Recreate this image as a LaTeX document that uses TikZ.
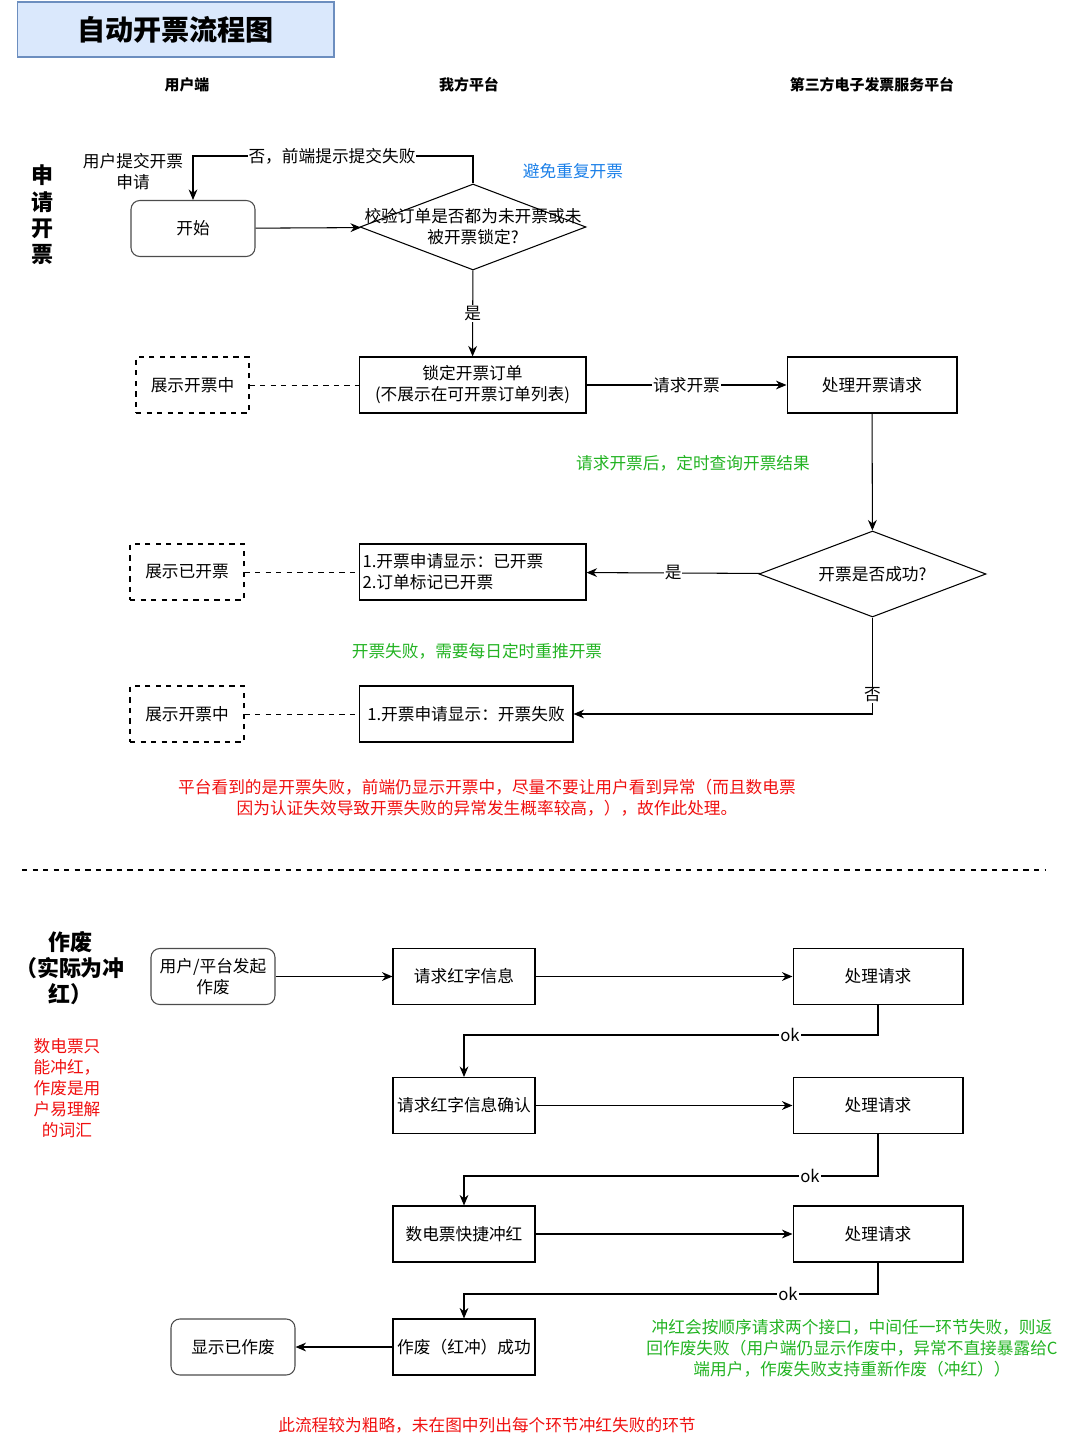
\documentclass[tikz,border=0pt]{standalone}
\usepackage{fontspec}
\setmainfont{Noto Sans CJK SC}
\usetikzlibrary{arrows.meta,shapes.geometric}
\definecolor{titleblue}{HTML}{DAE8FC}
\definecolor{titleline}{HTML}{6C8EBF}
\definecolor{notegreen}{HTML}{22B322}
\definecolor{notered}{HTML}{F01010}
\definecolor{noteblue}{HTML}{1A7FE8}
\tikzset{
  txt/.style={font=\fontsize{9.5}{12}\selectfont, inner sep=1pt, align=center},
  box/.style={txt, draw, semithick, minimum height=1.12cm},
  rbox/.style={box, rounded corners=5pt, draw=black!70},
  dbox/.style={box, dashed},
  dia/.style={draw, semithick, diamond, inner sep=0pt, minimum size=0pt,
    shape aspect=2.6},
  arr/.style={-{Stealth[length=6pt,width=5pt]}, semithick},
  lbl/.style={txt, fill=white, inner sep=0.5pt},
  head/.style={font=\fontsize{8.5}{10}\selectfont\bfseries},
  side/.style={font=\fontsize{12.5}{15}\selectfont\bfseries, align=center}
}
\begin{document}
\begin{tikzpicture}[x=0.02cm,y=-0.02cm]
\useasboundingbox (0,0) rectangle (1080,1452);

% titles
\node[draw=titleline, fill=titleblue, semithick, minimum width=6.34cm, minimum height=1.1cm,
  font=\fontsize{16}{18}\selectfont\bfseries] (title) at (175.5,29.5) {自动开票流程图};
\node[head] (h1) at (187,85) {用户端};
\node[head] (h2) at (469,85) {我方平台};
\node[head] (h3) at (872,85) {第三方电子发票服务平台};
\node[side] (s1) at (42,215) {申\\请\\开\\票};

% apply
\node[rbox, minimum width=2.48cm] (start) at (193,228.5) {开始};
\node[dia, minimum width=4.52cm, minimum height=1.72cm] (check) at (473,227) {};
\node[txt] at (check) {校验订单是否都为未开票或未\\被开票锁定?};
\node[box, minimum width=4.54cm] (lock) at (472.5,385) {锁定开票订单\\(不展示在可开票订单列表)};
\node[dbox, minimum width=2.26cm] (show1) at (192.5,385) {展示开票中};
\node[box, minimum width=3.4cm] (proc) at (872,385) {处理开票请求};
\node[dia, minimum width=4.54cm, minimum height=1.72cm] (ok1) at (872.5,574) {};
\node[txt] at (ok1) {开票是否成功?};
\node[box, minimum width=4.54cm, align=left, text width=4.4cm] (done) at (472.5,572) {1.开票申请显示：已开票\\2.订单标记已开票};
\node[dbox, minimum width=2.28cm] (show2) at (187,572) {展示已开票};
\node[box, minimum width=4.28cm] (fail) at (466,714) {1.开票申请显示：开票失败};
\node[dbox, minimum width=2.28cm] (show3) at (187,714) {展示开票中};

\draw[arr] (start) -- (check);
\draw[arr] (check.north) |- (193,156) -- (start.north);
\node[lbl] (no1) at (332,156) {否，前端提示提交失败};
\node[txt] (user) at (133,172) {用户提交开票\\申请};
\node[txt, text=noteblue] (n1) at (573,171) {避免重复开票};
\draw[arr] (check) -- (lock) node[lbl, pos=0.5] {是};
\draw[dashed] (show1) -- (lock);
\draw[arr] (lock) -- (proc) node[lbl, midway] {请求开票};
\node[txt, text=notegreen] (n2) at (693,463) {请求开票后，定时查询开票结果};
\draw[arr] (proc) -- (ok1);
\draw[arr] (ok1) -- (done) node[lbl, midway] {是};
\draw[dashed] (show2) -- (done);
\node[txt, text=notegreen] (n3) at (477,651) {开票失败，需要每日定时重推开票};
\draw[arr] (ok1.south) |- (fail) node[lbl, pos=0.4] {否};
\draw[dashed] (show3) -- (fail);
\node[txt, text=notered] (n4) at (487,798) {平台看到的是开票失败，前端仍显示开票中，尽量不要让用户看到异常（而且数电票\\因为认证失效导致开票失败的异常发生概率较高，），故作此处理。};

\draw[dashed, semithick] (22,870) -- (1045,870);

% cancel
\node[side] (s2) at (70,968) {作废\\（实际为冲\\红）};
\node[txt, text=notered] (n5) at (67,1088) {数电票只\\能冲红，\\作废是用\\户易理解\\的词汇};
\node[rbox, minimum width=2.48cm] (req) at (213,976.5) {用户/平台发起\\作废};
\node[box, minimum width=2.84cm] (a1) at (464,976.5) {请求红字信息};
\node[box, minimum width=3.4cm] (b1) at (878,976.5) {处理请求};
\node[box, minimum width=2.84cm] (a2) at (464,1105.5) {请求红字信息确认};
\node[box, minimum width=3.4cm] (b2) at (878,1105.5) {处理请求};
\node[box, minimum width=2.84cm] (a3) at (464,1234) {数电票快捷冲红};
\node[box, minimum width=3.4cm] (b3) at (878,1234) {处理请求};
\node[box, minimum width=2.84cm] (a4) at (464,1347) {作废（红冲）成功};
\node[rbox, minimum width=2.48cm] (shown) at (233,1347) {显示已作废};

\draw[arr] (req) -- (a1);
\draw[arr] (a1) -- (b1);
\draw[arr] (b1.south) |- (790,1035) -| (a2.north);
\node[lbl] (ok2) at (790,1035) {ok};
\draw[arr] (a2) -- (b2);
\draw[arr] (b2.south) |- (810,1176) -| (a3.north);
\node[lbl] (ok3) at (810,1176) {ok};
\draw[arr] (a3) -- (b3);
\draw[arr] (b3.south) |- (788,1294) -| (a4.north);
\node[lbl] (ok4) at (788,1294) {ok};
\draw[arr] (a4) -- (shown);
\node[txt, text=notegreen] (n6) at (852,1348) {冲红会按顺序请求两个接口，中间任一环节失败，则返\\回作废失败（用户端仍显示作废中，异常不直接暴露给C\\端用户，作废失败支持重新作废（冲红））};
\node[txt, text=notered] (n7) at (487,1425) {此流程较为粗略，未在图中列出每个环节冲红失败的环节};
\end{tikzpicture}
\end{document}
